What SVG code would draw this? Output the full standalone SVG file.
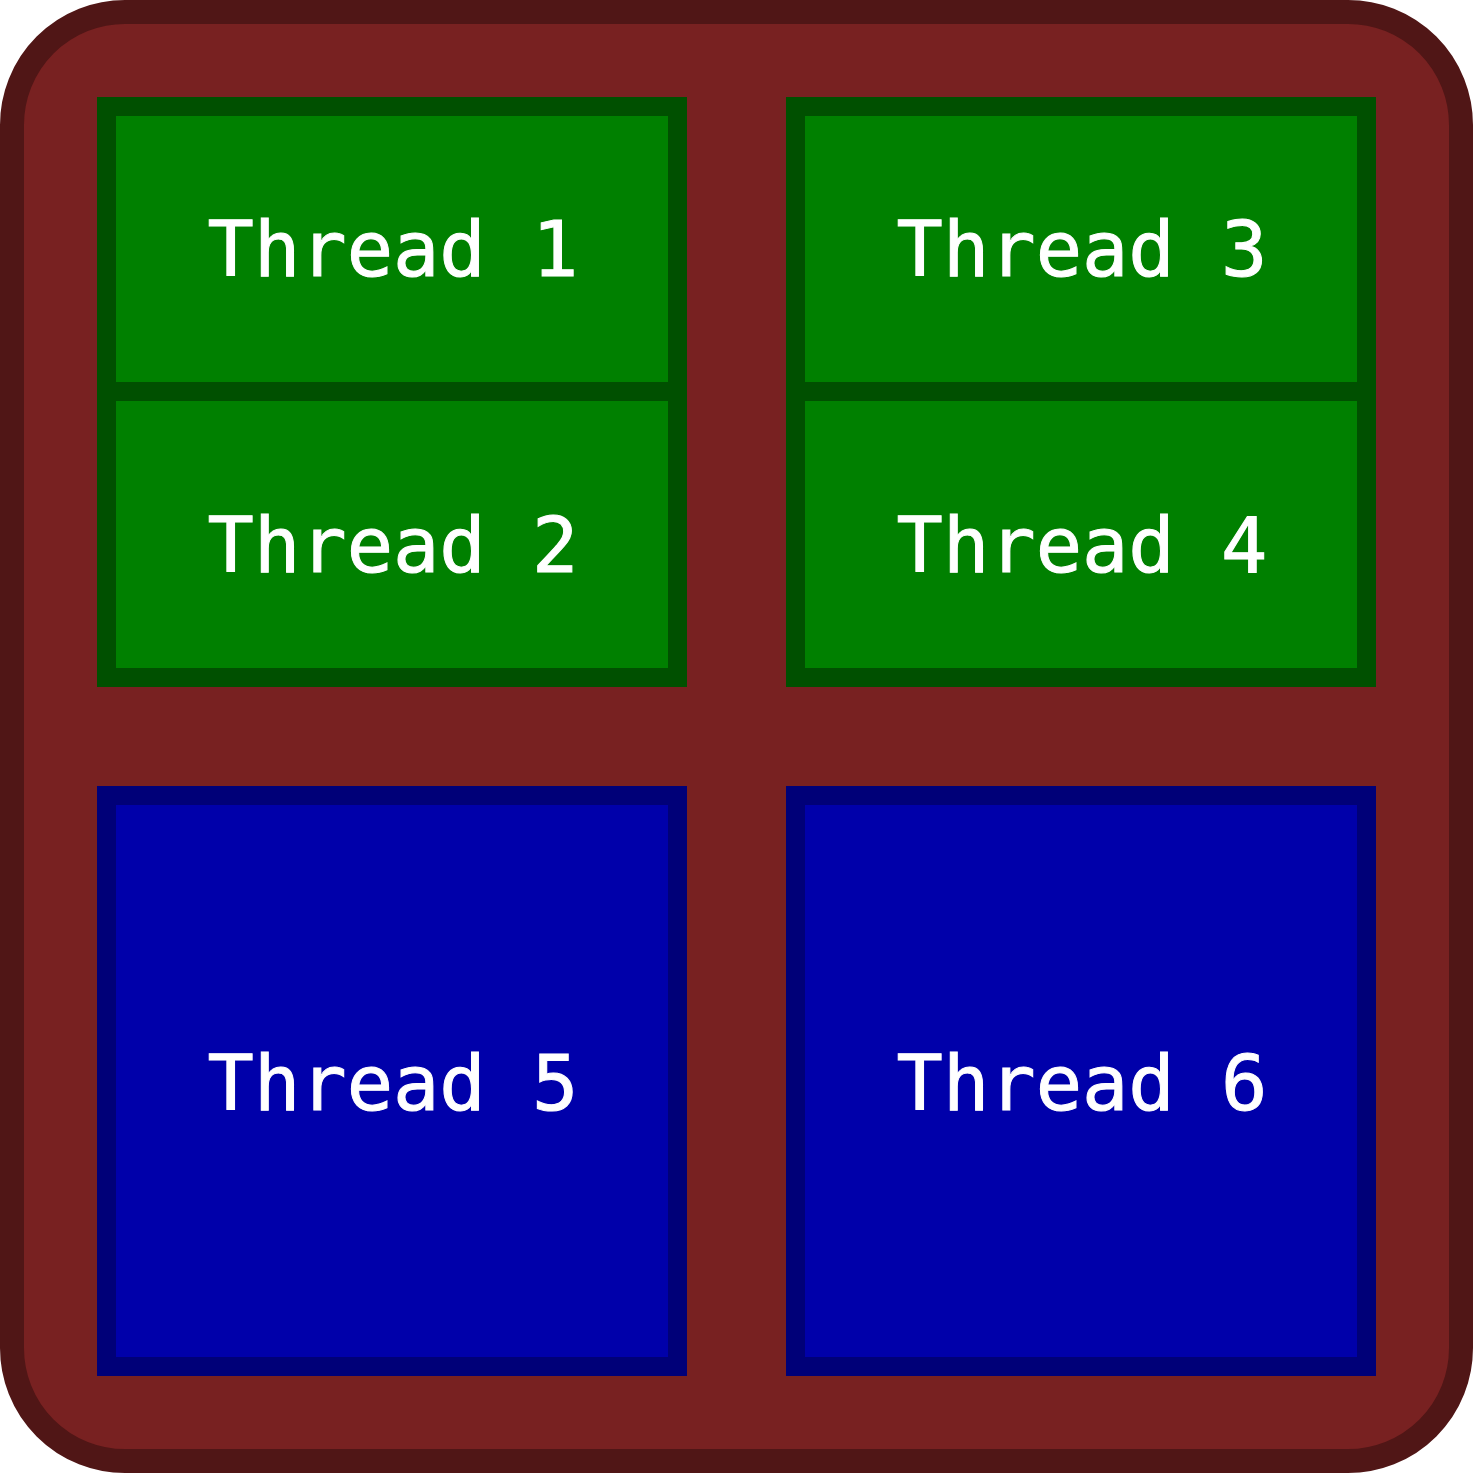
<svg xmlns="http://www.w3.org/2000/svg" width="1473" height="1473" viewBox="0 0 1473 1473">
<style>
.frame{fill:#782121;stroke:#501616;stroke-width:24}
.g{fill:#008000;stroke:#005000;stroke-width:19}
.b{fill:#0000aa;stroke:#000078;stroke-width:19}
.t{font-family:"DejaVu Sans Mono","Liberation Mono",monospace;font-size:77px;fill:#ffffff;text-anchor:middle;stroke:#ffffff;stroke-width:1}
</style>
<g id="process"><rect class="frame" x="12" y="12" width="1449" height="1449" rx="113" ry="113"/></g>
<g id="thread1"><rect class="g" x="106.5" y="106.5" width="571" height="285"/><text class="t" x="393" y="276">Thread 1</text></g>
<g id="thread2"><rect class="g" x="106.5" y="391.5" width="571" height="286"/><text class="t" x="393" y="572">Thread 2</text></g>
<g id="thread3"><rect class="g" x="795.5" y="106.5" width="571" height="285"/><text class="t" x="1082" y="276">Thread 3</text></g>
<g id="thread4"><rect class="g" x="795.5" y="391.5" width="571" height="286"/><text class="t" x="1082" y="572">Thread 4</text></g>
<g id="thread5"><rect class="b" x="106.5" y="795.5" width="571" height="571"/><text class="t" x="393" y="1110">Thread 5</text></g>
<g id="thread6"><rect class="b" x="795.5" y="795.5" width="571" height="571"/><text class="t" x="1082" y="1110">Thread 6</text></g>
<g id="connectors"/>
</svg>
